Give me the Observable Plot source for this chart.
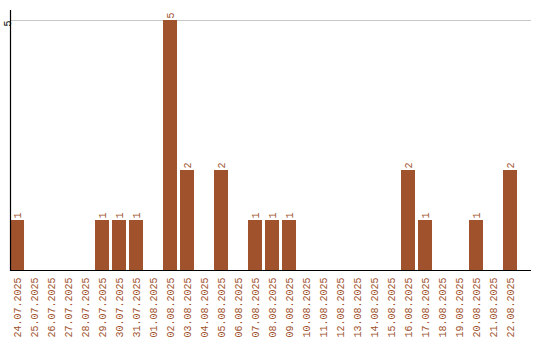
<!DOCTYPE html>
<html>
<head>
<meta charset="utf-8">
<script src="https://cdn.jsdelivr.net/npm/d3@7"></script>
<script src="https://cdn.jsdelivr.net/npm/@observablehq/plot@0.6"></script>
<style>
  body { margin: 0; background: #fff; }
</style>
</head>
<body>
<div id="chart"></div>
<script>
const dates = ["24.07.2025","25.07.2025","26.07.2025","27.07.2025","28.07.2025","29.07.2025","30.07.2025","31.07.2025","01.08.2025","02.08.2025","03.08.2025","04.08.2025","05.08.2025","06.08.2025","07.08.2025","08.08.2025","09.08.2025","10.08.2025","11.08.2025","12.08.2025","13.08.2025","14.08.2025","15.08.2025","16.08.2025","17.08.2025","18.08.2025","19.08.2025","20.08.2025","21.08.2025","22.08.2025"];
const counts = [1,0,0,0,0,1,1,1,0,5,2,0,2,0,1,1,1,0,0,0,0,0,0,2,1,0,0,1,0,2];
const yTicks = [5];

const data = dates.map((d, i) => ({date: d, count: counts[i]}));
const nonZero = data.filter(d => d.count > 0);
const color = "#a0522d";
const font = "Liberation Mono";

const chart = Plot.plot({
  width: 540,
  height: 340,
  marginTop: 10,
  marginBottom: 70,
  marginLeft: 10,
  marginRight: 9,
  style: {fontFamily: font, fontSize: "10px", background: "#fff"},
  x: {domain: dates, paddingInner: 0.176, paddingOuter: 0.4117, align: 0, round: false, label: null},
  y: {domain: [0, 5.2], label: null},
  marks: [
    Plot.gridY(yTicks, {stroke: "#c8c8c8", strokeOpacity: 1}),
    Plot.barY(data, {x: "date", y: "count", fill: color}),
    Plot.text(nonZero, {x: "date", y: "count", text: d => String(d.count), rotate: -90, textAnchor: "start", dy: -2, fill: color, fontFamily: font, fontSize: 10}),
    Plot.axisX({tickSize: 0, tickPadding: 7, tickRotate: -90, fill: color, fontFamily: font, fontSize: 10, label: null}),
    Plot.axisY(yTicks, {tickSize: 0, tickPadding: 3, tickFormat: d => String(d), rotate: -90, textAnchor: "end", fill: "#000", fontFamily: font, fontSize: 10, label: null}),
    Plot.ruleY([0], {stroke: "#000", strokeWidth: 1.2}),
    Plot.frame({anchor: "left", stroke: "#000", strokeWidth: 1.2})
  ]
});
document.getElementById("chart").appendChild(chart);
</script>
</body>
</html>
